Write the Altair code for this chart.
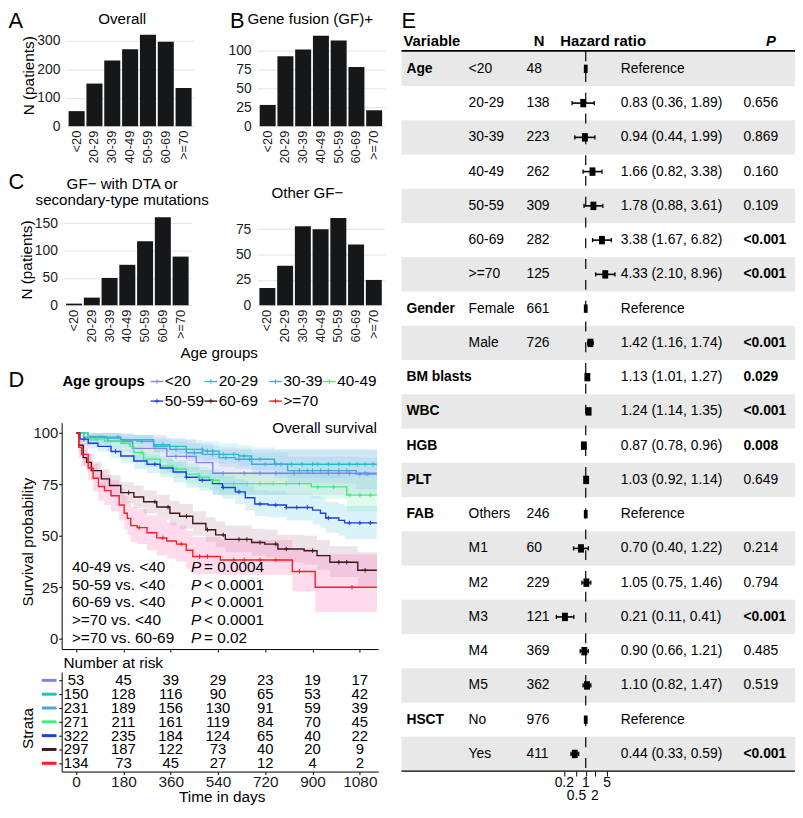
import altair as alt
import pandas as pd

W, H = 795, 802
FONT = "Liberation Sans"


def X(p):
    return round((p - 1.5) * 0.99, 2)


def Y(p):
    return round((p - 7.0) * 0.99, 2)


# ------------------------------------------------------------------ data
age_groups = ["<20", "20-29", "30-39", "40-49", "50-59", "60-69", ">=70"]

overall_n = [53, 150, 231, 271, 322, 297, 134]
gf_pos_n = [28, 92, 101, 119, 113, 78, 21]
gf_neg_dta_n = [3, 14, 50, 74, 117, 161, 89]
other_gf_neg_n = [17, 39, 78, 75, 86, 60, 25]

line_colors = ["#8282EE", "#22BFC6", "#4FA3DC", "#3DF07A", "#1B3FE3", "#3D1818", "#FF1C1C"]
band_colors = ["#9A9AF2", "#5FD6DC", "#7DBDE9", "#6FF2A3", "#62CDE6", "#B98AA3", "#FF6EB9"]
band_opacity = [0.2, 0.25, 0.22, 0.22, 0.3, 0.35, 0.45]

# Kaplan-Meier estimates (time in days, survival %)
km_time_1 = [0, 30, 120, 215, 345, 457, 520, 1145]
km_surv_1 = [100, 98, 96, 92.5, 88.6, 85.6, 80.4, 80.4]
km_low_1 = [100, 94, 91, 86, 81, 77, 70, 69]
km_up_1 = [100, 100, 100, 99, 97, 95, 92, 91]
cens_1 = [380, 420, 560, 640, 700, 760, 830, 960, 1000, 1040, 1100]

km_time_2 = [0, 46, 108, 170, 232, 295, 357, 419, 481, 544, 619, 668, 755, 1145]
km_surv_2 = [100, 98.3, 97.5, 96.7, 95.9, 94.3, 93.5, 92, 91.2, 89.6, 88.8, 87.2, 84.8, 84.8]
km_low_2 = [100, 96.2, 95, 94, 93, 91, 90, 88, 87, 85, 84, 82, 78, 77]
km_up_2 = [100, 100, 100, 99.5, 99, 98, 97.5, 96.5, 96, 95, 94, 93, 92, 92]
cens_2 = [250, 330, 420, 480, 500, 520, 560, 600, 640, 700, 780, 820, 860, 900, 920, 960, 1000, 1040, 1070, 1100, 1130]

km_time_3 = [0, 46, 170, 295, 357, 419, 481, 544, 606, 668, 805, 1066, 1145]
km_surv_3 = [100, 98, 96.7, 93.5, 92, 90.4, 89.6, 88, 87.2, 84.8, 81.7, 80, 80]
km_low_3 = [100, 96, 94.5, 90.5, 88.5, 86.5, 85.5, 83.5, 82.5, 79.5, 75.5, 72.5, 72.5]
km_up_3 = [100, 100, 99, 97, 96, 95, 94, 93, 92.5, 90.5, 88.5, 88, 88]
cens_3 = [160, 300, 380, 450, 520, 570, 620, 660, 720, 760, 850, 880, 900, 930, 960, 1000, 1030, 1080, 1110]

km_time_4 = [0, 46, 108, 170, 205, 220, 257, 320, 369, 419, 469, 507, 544, 895, 1030, 1145]
km_surv_4 = [100, 97, 96, 95, 93.5, 90.5, 87.3, 84, 82.5, 80, 78.5, 77, 75.4, 73.8, 69.8, 69.8]
km_low_4 = [100, 95, 94, 92.5, 90.5, 87, 83.5, 80, 78, 75.5, 73.5, 72, 70, 68, 62, 62]
km_up_4 = [100, 99, 98.5, 97.5, 96.5, 94, 91.5, 88.5, 87, 85, 83.5, 82.5, 81, 80, 78, 78]
cens_4 = [80, 250, 380, 470, 520, 600, 650, 700, 750, 800, 850, 920, 980, 1040, 1080, 1120]

km_time_5 = [0, 15, 46, 83, 133, 170, 220, 270, 320, 369, 419, 469, 519, 557, 606, 644, 680, 731, 800, 900, 930, 950, 1000, 1022, 1145]
km_surv_5 = [100, 97, 95, 93.5, 91, 88.8, 86.4, 84.8, 83, 81, 78.5, 77, 75.4, 73.5, 71.4, 68.5, 65.5, 65, 63.8, 62.5, 61, 58.7, 57.5, 56.3, 56.3]
km_low_5 = [100, 95, 92.5, 91, 88, 85.5, 82.5, 80.5, 78.5, 76, 73.5, 72, 70, 68, 65.5, 62.5, 59.5, 59, 57.5, 55.5, 54, 51.5, 50, 48.5, 48.5]
km_up_5 = [100, 99, 97.5, 96, 94, 92, 90, 89, 87.5, 86, 83.5, 82, 81, 79, 77.5, 74.5, 72, 71.5, 70.5, 69.5, 68.5, 66.5, 65.5, 64.5, 64.5]
cens_5 = [30, 150, 300, 420, 480, 560, 620, 700, 760, 800, 840, 880, 960, 1040, 1080, 1120]

km_time_6 = [0, 10, 27, 40, 58, 96, 127, 170, 220, 257, 307, 357, 394, 444, 494, 531, 568, 668, 718, 768, 868, 917, 966, 1072, 1145]
km_surv_6 = [100, 94, 88, 85.7, 81.7, 77.7, 74.5, 71, 68.9, 66.6, 64, 61, 59.5, 56, 53, 50.5, 48.3, 46.8, 46, 43.6, 42.8, 40.4, 37.2, 33.3, 33.3]
km_low_6 = [100, 91, 84, 81.5, 77.5, 73, 69.5, 66, 63.5, 61, 58, 55, 53.5, 50, 47, 44.5, 42, 40.5, 39.5, 37, 36, 33.5, 30, 25.5, 25.5]
km_up_6 = [100, 97, 92, 90, 86, 82.5, 79.5, 76, 74.5, 72, 70, 67, 65.5, 62, 59, 57, 55, 53.5, 53, 50.5, 50, 48, 45, 42, 42]
cens_6 = [200, 300, 350, 420, 500, 560, 620, 650, 700, 760, 800, 900, 1000, 1030, 1100]

km_time_7 = [0, 10, 21, 46, 65, 85, 108, 133, 164, 183, 195, 208, 232, 270, 307, 345, 382, 419, 444, 549, 823, 910, 1145]
km_surv_7 = [100, 93, 89.6, 83, 78, 74, 72, 69.5, 65, 61, 58.5, 55, 54, 51.5, 49, 47.5, 46, 43, 40, 38.3, 32.7, 25, 25]
km_low_7 = [100, 88, 84, 77, 71.5, 67, 65, 62, 57.5, 53, 50.5, 47, 46, 43, 40.5, 39, 37.5, 34, 31.5, 31, 23, 13, 13]
km_up_7 = [100, 97.5, 95, 89, 85, 81.5, 79.5, 77, 73, 69.5, 67, 64, 63, 60, 58, 56.5, 55, 52.5, 49.5, 48, 44, 41, 41]
cens_7 = [240, 330, 400, 470, 500, 600, 640, 700, 760, 850, 1050]

km_times = [km_time_1, km_time_2, km_time_3, km_time_4, km_time_5, km_time_6, km_time_7]
km_survs = [km_surv_1, km_surv_2, km_surv_3, km_surv_4, km_surv_5, km_surv_6, km_surv_7]
km_lows = [km_low_1, km_low_2, km_low_3, km_low_4, km_low_5, km_low_6, km_low_7]
km_ups = [km_up_1, km_up_2, km_up_3, km_up_4, km_up_5, km_up_6, km_up_7]
km_cens = [cens_1, cens_2, cens_3, cens_4, cens_5, cens_6, cens_7]

# number at risk
risk_times = [0, 180, 360, 540, 720, 900, 1080]
risk_1 = [53, 45, 39, 29, 23, 19, 17]
risk_2 = [150, 128, 116, 90, 65, 53, 42]
risk_3 = [231, 189, 156, 130, 91, 59, 39]
risk_4 = [271, 211, 161, 119, 84, 70, 45]
risk_5 = [322, 235, 184, 124, 65, 40, 22]
risk_6 = [297, 187, 122, 73, 40, 20, 9]
risk_7 = [134, 73, 45, 27, 12, 4, 2]
risk_all = [risk_1, risk_2, risk_3, risk_4, risk_5, risk_6, risk_7]

pval_compare = ["40-49 vs. <40", "50-59 vs. <40", "60-69 vs. <40", ">=70  vs. <40", ">=70  vs. 60-69"]
pval_text = ["= 0.0004", "< 0.0001", "< 0.0001", "< 0.0001", "= 0.02"]

# forest plot (Cox model)
forest_var = ["Age", "", "", "", "", "", "", "Gender", "", "BM blasts", "WBC", "HGB", "PLT",
              "FAB", "", "", "", "", "", "HSCT", ""]
forest_sub = ["<20", "20-29", "30-39", "40-49", "50-59", "60-69", ">=70", "Female", "Male", "", "", "", "",
              "Others", "M1", "M2", "M3", "M4", "M5", "No", "Yes"]
forest_n = ["48", "138", "223", "262", "309", "282", "125", "661", "726", "", "", "", "",
            "246", "60", "229", "121", "369", "362", "976", "411"]
forest_hr = [1.0, 0.83, 0.94, 1.66, 1.78, 3.38, 4.33, 1.0, 1.42, 1.13, 1.24, 0.87, 1.03,
             1.0, 0.70, 1.05, 0.21, 0.90, 1.10, 1.0, 0.44]
forest_lo = [None, 0.36, 0.44, 0.82, 0.88, 1.67, 2.10, None, 1.16, 1.01, 1.14, 0.78, 0.92,
             None, 0.40, 0.75, 0.11, 0.66, 0.82, None, 0.33]
forest_hi = [None, 1.89, 1.99, 3.38, 3.61, 6.82, 8.96, None, 1.74, 1.27, 1.35, 0.96, 1.14,
             None, 1.22, 1.46, 0.41, 1.21, 1.47, None, 0.59]
forest_p = ["", "0.656", "0.869", "0.160", "0.109", "<0.001", "<0.001", "", "<0.001", "0.029", "<0.001",
            "0.008", "0.649", "", "0.214", "0.794", "<0.001", "0.485", "0.519", "", "<0.001"]
forest_ticks_top = [0.2, 1, 5]
forest_ticks_bottom = [0.5, 2]

# ------------------------------------------------------------------ helpers
layers = []


def axis_kw(**kw):
    d = dict(title=None, labelFont=FONT, labelColor="#1a1a1a", domainColor="black",
             tickColor="black", grid=False, labelFontSize=14)
    d.update(kw)
    return alt.Axis(**d)


def texts(rows, size=15.5, weight="normal", style="normal", align="left",
          baseline="middle", angle=0, color="black"):
    df = pd.DataFrame(rows, columns=["label", "x", "y"])
    df["x"] = df["x"].map(X)
    df["y"] = df["y"].map(Y)
    return alt.Chart(df).mark_text(
        font=FONT, fontSize=size, fontWeight=weight, fontStyle=style, align=align,
        baseline=baseline, angle=angle, color=color
    ).encode(x=alt.X("x:Q", scale=None), y=alt.Y("y:Q", scale=None), text="label:N")


def bar_panel(values, x0, x1, y0, per_unit, ymax, ticks):
    df = pd.DataFrame({"age": age_groups, "n": values})
    xs = alt.Scale(domain=age_groups, range=[X(x0), X(x1)], paddingInner=0.1, paddingOuter=0.15)
    ys = alt.Scale(domain=[0, ymax], range=[Y(y0), Y(y0 - ymax * per_unit)], nice=False, zero=False)
    return alt.Chart(df).mark_bar(color="#161718").encode(
        x=alt.X("age:N", sort=age_groups, scale=xs,
                axis=axis_kw(orient="bottom", offset=Y(y0) - H, labelAngle=270, labelPadding=4,
                             labelFontSize=13, ticks=False, tickSize=0, domain=False)),
        y=alt.Y("n:Q", scale=ys,
                axis=axis_kw(orient="left", offset=-X(x0), values=ticks, grid=True, gridColor="#e3e3e3",
                             ticks=False, tickSize=0, labelPadding=6, domain=False)),
    )


# ------------------------------------------------------------------ A, B, C
layers.append(bar_panel(overall_n, 60.6, 191.6, 123.5, 0.29, 330, [0, 100, 200, 300]))
layers.append(bar_panel(gf_pos_n, 255.6, 386, 123.5, 0.775, 125, [0, 25, 50, 75, 100]))
layers.append(bar_panel(gf_neg_dta_n, 58, 188.5, 306.2, 0.558, 170, [0, 50, 100, 150]))
layers.append(bar_panel(other_gf_neg_n, 255.3, 385.6, 306.2, 1.034, 90, [0, 25, 50, 75]))

layers.append(texts([("A", 2, 23), ("B", 228, 23), ("C", 2, 188), ("D", 2, 390), ("E", 403, 23)],
                    size=22, baseline="alphabetic"))
layers.append(texts([("Overall", 118, 14), ("Gene fusion (GF)+", 310, 14),
                     ("GF\u2212 with DTA or", 118, 183), ("secondary-type mutations", 118, 199),
                     ("Other GF\u2212", 307, 192), ("Age groups", 217, 355)], size=15.3, align="center"))
layers.append(texts([("N (patients)", 23, 72), ("N (patients)", 21, 260),
                     ("Survival probability", 22, 548), ("Strata", 21.7, 738)],
                    align="center", angle=270))

# ------------------------------------------------------------------ D: KM
km_rows, cens_rows = [], []
for g, ts, ss, lo, up, cs in zip(age_groups, km_times, km_survs, km_lows, km_ups, km_cens):
    for t, s, l, u in zip(ts, ss, lo, up):
        km_rows.append(dict(group=g, t=t, s=s, lo=l, up=u))
    for c in cs:
        v = ss[0]
        for ti, si in zip(ts, ss):
            if ti <= c:
                v = si
        cens_rows.append(dict(group=g, t=c, s=v))
km_df = pd.DataFrame(km_rows)
cens_df = pd.DataFrame(cens_rows)

km_x = alt.Scale(domain=[-55, 1150], range=[X(56.26), X(379.3)], nice=False, zero=False)
km_y = alt.Scale(domain=[-5, 105], range=[Y(657), Y(426)], nice=False, zero=False)
col_scale = alt.Scale(domain=age_groups, range=line_colors)

layers.append(alt.Chart(km_df).mark_area(interpolate="step-after").encode(
    x=alt.X("t:Q", scale=km_x, axis=None),
    y=alt.Y("lo:Q", scale=km_y, axis=None), y2="up:Q",
    color=alt.Color("group:N", scale=alt.Scale(domain=age_groups, range=band_colors), legend=None),
    opacity=alt.Opacity("group:N", scale=alt.Scale(domain=age_groups, range=band_opacity), legend=None),
))
layers.append(alt.Chart(km_df).mark_line(interpolate="step-after", strokeWidth=1.4).encode(
    x=alt.X("t:Q", scale=km_x,
            axis=axis_kw(orient="bottom", offset=Y(657) - H, values=risk_times, labels=False, tickSize=3)),
    y=alt.Y("s:Q", scale=km_y,
            axis=axis_kw(orient="left", offset=-X(56.26), values=[0, 25, 50, 75, 100], tickSize=3,
                         labelPadding=1, labelFontSize=15)),
    color=alt.Color("group:N", scale=col_scale, legend=None),
))
layers.append(alt.Chart(cens_df).mark_point(shape="M0,-1V1M-1,0H1", size=20, strokeWidth=1,
                                            filled=False, opacity=1).encode(
    x=alt.X("t:Q", scale=km_x, axis=None),
    y=alt.Y("s:Q", scale=km_y, axis=None),
    color=alt.Color("group:N", scale=col_scale, legend=None),
))

# legend
legend_pos = [(147, 384), (202, 384), (268, 384), (323, 384), (147, 404), (202, 404), (268, 404)]
leg_df = pd.DataFrame({
    "group": age_groups,
    "x1": [X(p[0]) for p in legend_pos],
    "x2": [X(p[0] + 13) for p in legend_pos],
    "xc": [X(p[0] + 6.5) for p in legend_pos],
    "xt": [X(p[0] + 14.5) for p in legend_pos],
    "y": [Y(p[1]) for p in legend_pos],
})
layers.append(alt.Chart(leg_df).mark_rule(strokeWidth=1.4).encode(
    x=alt.X("x1:Q", scale=None), x2="x2:Q", y=alt.Y("y:Q", scale=None),
    color=alt.Color("group:N", scale=col_scale, legend=None)))
layers.append(alt.Chart(leg_df).mark_point(shape="M0,-1V1M-1,0H1", size=22, strokeWidth=1,
                                           filled=False, opacity=1).encode(
    x=alt.X("xc:Q", scale=None), y=alt.Y("y:Q", scale=None),
    color=alt.Color("group:N", scale=col_scale, legend=None)))
layers.append(alt.Chart(leg_df).mark_text(font=FONT, fontSize=15.5, align="left", color="black").encode(
    x=alt.X("xt:Q", scale=None), y=alt.Y("y:Q", scale=None), text="group:N"))
layers.append(texts([("Age groups", 57, 384)], size=15, weight="bold"))
layers.append(texts([("Overall survival", 378, 431)], align="right"))

pv_y = [573.5, 591.5, 609.5, 627.5, 646]
layers.append(texts([(c, 66.7, y) for c, y in zip(pval_compare, pv_y)]))
layers.append(texts([("P", 188.3, y) for y in pv_y], style="italic"))
layers.append(texts([(p, 201.5, y) for p, y in zip(pval_text, pv_y)]))

# number at risk table
risk_rows = []
for g, vals in zip(age_groups, risk_all):
    for t, v in zip(risk_times, vals):
        risk_rows.append(dict(group=g, t=t, n=v))
risk_df = pd.DataFrame(risk_rows)
risk_y = alt.Scale(type="point", domain=age_groups, range=[Y(680.5), Y(782)], padding=0.6)
layers.append(alt.Chart(risk_df).mark_text(font=FONT, fontSize=15, color="black").encode(
    x=alt.X("t:Q", scale=km_x,
            axis=axis_kw(orient="bottom", offset=Y(782) - H, values=risk_times, tickSize=3,
                         labelFontSize=15.5, labelPadding=0, format="d")),
    y=alt.Y("group:N", scale=risk_y,
            axis=axis_kw(orient="left", offset=-X(56.26), labels=False, tickSize=3)),
    text="n:Q",
))
layers.append(alt.Chart(pd.DataFrame({"group": age_groups})).mark_rule(strokeWidth=3).encode(
    x=alt.value(X(36)), x2=alt.value(X(51)),
    y=alt.Y("group:N", scale=risk_y, axis=None),
    color=alt.Color("group:N", scale=col_scale, legend=None)))
layers.append(texts([("Number at risk", 58, 671)]))
layers.append(texts([("Time in days", 220, 808)], align="center"))

# ------------------------------------------------------------------ E: forest
n_rows = len(forest_var)
fdf = pd.DataFrame({
    "row": list(range(n_rows)), "var": forest_var, "sub": forest_sub, "n": forest_n,
    "hr": forest_hr, "lo": forest_lo, "hi": forest_hi, "p": forest_p,
})
fdf["is_ref"] = fdf["lo"].isna()
fdf["hr_text"] = [
    "Reference" if r else f"{h:.2f} ({l:.2f}, {u:.2f})"
    for r, h, l, u in zip(fdf["is_ref"], fdf["hr"], fdf["lo"], fdf["hi"])
]
fdf["bold_p"] = [p in ("<0.001", "0.029", "0.008") for p in fdf["p"]]

fx = alt.Scale(type="log", domain=[0.1, 10], range=[X(559.7), X(622.3)], nice=False)
prow = alt.Scale(type="point", domain=list(range(n_rows)), range=[Y(47.5), Y(781.5)], padding=0.5)
brow = alt.Scale(type="band", domain=list(range(n_rows)), range=[Y(47.5), Y(781.5)],
                 paddingInner=0, paddingOuter=0)

layers.append(alt.Chart(fdf[fdf["row"] % 2 == 0]).mark_rect(color="#e8e8e8").encode(
    y=alt.Y("row:O", scale=brow, axis=None), x=alt.value(X(403)), x2=alt.value(W)))

one = pd.DataFrame({"v": [1.0]})
layers.append(alt.Chart(one).mark_rule(strokeWidth=1.8, color="black").encode(
    x=alt.value(X(403)), x2=alt.value(W), y=alt.value(Y(46.7))))
layers.append(alt.Chart(one).mark_rule(strokeWidth=1.2, color="black").encode(
    x=alt.value(X(403)), x2=alt.value(W), y=alt.value(Y(781.5))))
layers.append(alt.Chart(one).mark_rule(strokeWidth=1.2, color="black", strokeDash=[10, 11]).encode(
    x=alt.X("v:Q", scale=fx,
            axis=axis_kw(orient="bottom", offset=Y(781.5) - H, values=[0.2, 0.5, 1, 2, 5],
                         labels=False, tickSize=5, domain=False)),
    y=alt.value(Y(47)), y2=alt.value(Y(781.5))))

ci = fdf[~fdf["is_ref"]]
layers.append(alt.Chart(ci).mark_rule(strokeWidth=1.6, color="black").encode(
    x=alt.X("lo:Q", scale=fx, axis=None), x2="hi:Q", y=alt.Y("row:O", scale=prow, axis=None)))
caps = pd.concat([ci[["row", "lo"]].rename(columns={"lo": "v"}), ci[["row", "hi"]].rename(columns={"hi": "v"})])
layers.append(alt.Chart(caps).mark_point(shape="M0,-1V1", size=18, strokeWidth=1.3, color="black",
                                         filled=False, opacity=1).encode(
    x=alt.X("v:Q", scale=fx, axis=None), y=alt.Y("row:O", scale=prow, axis=None)))
layers.append(alt.Chart(ci).mark_point(shape="M-0.7,-1H0.7V1H-0.7Z", size=72, color="black",
                                       filled=True, opacity=1).encode(
    x=alt.X("hr:Q", scale=fx, axis=None), y=alt.Y("row:O", scale=prow, axis=None)))
layers.append(alt.Chart(fdf[fdf["is_ref"]]).mark_point(shape="M-0.45,-1H0.45V1H-0.45Z", size=72,
                                                       color="black", filled=True, opacity=1).encode(
    x=alt.X("hr:Q", scale=fx, axis=None), y=alt.Y("row:O", scale=prow, axis=None)))


def ftext(df, field, xpos, weight="normal"):
    return alt.Chart(df).mark_text(font=FONT, fontSize=14, fontWeight=weight, align="left",
                                   color="black").encode(
        x=alt.value(X(xpos)), y=alt.Y("row:O", scale=prow, axis=None), text=f"{field}:N")


layers.append(ftext(fdf[fdf["var"] != ""], "var", 408, "bold"))
layers.append(ftext(fdf[fdf["sub"] != ""], "sub", 471.5))
layers.append(ftext(fdf[fdf["n"] != ""], "n", 530.5))
layers.append(ftext(fdf, "hr_text", 626.7))
layers.append(ftext(fdf[(fdf["p"] != "") & (~fdf["bold_p"])], "p", 752))
layers.append(ftext(fdf[fdf["bold_p"]], "p", 752, "bold"))

layers.append(texts([("Variable", 405, 37), ("N", 538, 37), ("Hazard ratio", 565, 37)],
                    size=15, weight="bold"))
layers.append(texts([("P", 775, 37)], size=15, weight="bold", style="italic"))

layers.append(alt.Chart(pd.DataFrame({"v": forest_ticks_top})).mark_text(
    font=FONT, fontSize=14, color="black").encode(
    x=alt.X("v:Q", scale=fx, axis=None), y=alt.value(Y(793.3)), text="v:N"))
layers.append(alt.Chart(pd.DataFrame({"v": forest_ticks_bottom})).mark_text(
    font=FONT, fontSize=14, color="black").encode(
    x=alt.X("v:Q", scale=fx, axis=None), y=alt.value(Y(807.3)), text="v:N"))

# ------------------------------------------------------------------ assemble
chart = alt.layer(*layers).resolve_scale(
    x="independent", y="independent", color="independent", opacity="independent"
).properties(
    width=W, height=H, padding=0, autosize=alt.AutoSizeParams(type="none")
).configure(font=FONT).configure_view(stroke=None)

chart.save("out.html", embed_options={"renderer": "svg", "actions": False})
